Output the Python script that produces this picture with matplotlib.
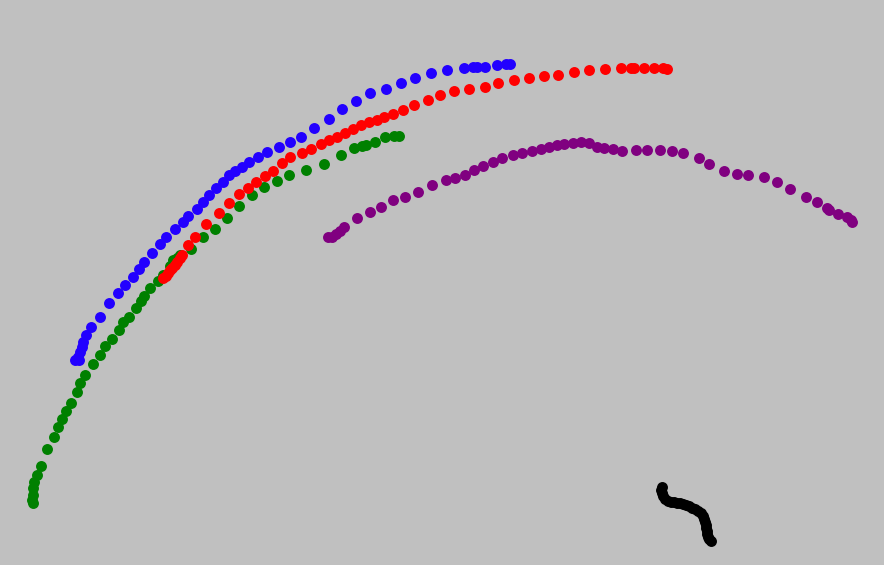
import matplotlib
matplotlib.use("Agg")
import matplotlib.pyplot as plt

# Trajectory points (x, y) in screen-like coordinates (y grows downward)
green_x = [33, 32, 33, 33, 34, 37, 41, 47, 54, 58, 62, 66, 71, 77, 80, 85, 93, 100, 105, 112, 119, 123, 129, 136, 141, 144, 150, 158, 163, 170, 173, 177, 180, 191, 203, 215, 227, 239, 252, 264, 277, 289, 306, 324, 341, 354, 362, 366, 375, 385, 394, 399]
green_y = [503, 500, 495, 488, 482, 475, 466, 449, 437, 427, 419, 411, 403, 392, 383, 375, 364, 355, 346, 339, 330, 322, 317, 308, 301, 296, 288, 281, 275, 266, 260, 258, 255, 249, 237, 229, 218, 206, 195, 187, 181, 175, 170, 164, 155, 148, 146, 145, 142, 137, 136, 136]

red_x = [163, 166, 168, 170, 172, 175, 177, 180, 182, 188, 195, 206, 219, 229, 239, 248, 256, 265, 273, 282, 290, 302, 311, 321, 329, 337, 345, 353, 361, 369, 377, 384, 393, 403, 414, 428, 440, 454, 469, 485, 498, 514, 529, 544, 558, 574, 589, 605, 621, 631, 634, 644, 654, 663, 667]
red_y = [278, 276, 273, 270, 268, 265, 262, 258, 255, 245, 237, 224, 213, 203, 194, 188, 182, 176, 171, 163, 157, 153, 149, 144, 140, 137, 133, 129, 125, 122, 120, 117, 114, 110, 105, 100, 95, 91, 89, 87, 83, 80, 78, 76, 75, 72, 70, 69, 68, 68, 68, 68, 68, 68, 69]

blue_x = [75, 79, 78, 80, 82, 83, 86, 91, 100, 109, 118, 125, 133, 139, 144, 152, 160, 166, 175, 183, 188, 197, 203, 209, 216, 223, 229, 235, 242, 249, 258, 267, 279, 290, 301, 314, 329, 342, 356, 370, 386, 401, 415, 431, 447, 464, 473, 477, 485, 497, 506, 510]
blue_y = [360, 360, 357, 352, 347, 342, 335, 327, 317, 303, 293, 285, 277, 269, 262, 253, 244, 237, 229, 222, 216, 209, 202, 195, 188, 182, 175, 171, 167, 162, 157, 152, 147, 142, 137, 128, 119, 109, 101, 93, 89, 83, 78, 73, 70, 68, 67, 67, 67, 65, 64, 64]

purple_x = [328, 332, 336, 340, 344, 357, 370, 381, 393, 405, 418, 432, 446, 455, 465, 474, 483, 493, 502, 513, 522, 532, 541, 549, 557, 564, 573, 581, 589, 597, 604, 613, 622, 636, 647, 660, 672, 683, 699, 709, 724, 737, 748, 764, 777, 790, 806, 817, 827, 829, 838, 847, 851, 852]
purple_y = [237, 237, 234, 231, 227, 218, 212, 207, 200, 197, 192, 185, 180, 178, 175, 170, 166, 162, 158, 155, 153, 151, 149, 147, 145, 144, 143, 142, 143, 147, 148, 149, 151, 150, 150, 150, 151, 153, 158, 164, 171, 174, 175, 177, 182, 189, 197, 202, 208, 210, 214, 217, 220, 222]

black_x = [662, 661, 662, 663, 665, 668, 671, 674, 677, 680, 683, 686, 689, 692, 695, 698, 701, 703, 704, 705, 706, 706, 707, 707, 708, 709, 711]
black_y = [487, 490, 493, 496, 499, 501, 502, 502, 503, 503, 504, 505, 506, 508, 509, 511, 513, 516, 519, 522, 525, 528, 531, 534, 537, 539, 541]

fig = plt.figure(figsize=(8.84, 5.65), dpi=100)
fig.patch.set_facecolor('#c0c0c0')
ax = fig.add_axes([0, 0, 1, 1])
ax.set_facecolor('#c0c0c0')
ax.set_xlim(0, 884)
ax.set_ylim(565, 0)
ax.axis('off')

s = 62
ax.scatter(green_x, green_y, s=s, color='#008000', linewidths=0)
ax.scatter(red_x, red_y, s=s, color='#ff0000', linewidths=0)
ax.scatter(blue_x, blue_y, s=s, color='#2200ff', linewidths=0)
ax.scatter(purple_x, purple_y, s=s, color='#800080', linewidths=0)
ax.scatter(black_x, black_y, s=s, color='#000000', linewidths=0)

fig.savefig('out.png', dpi=100, facecolor='#c0c0c0')
